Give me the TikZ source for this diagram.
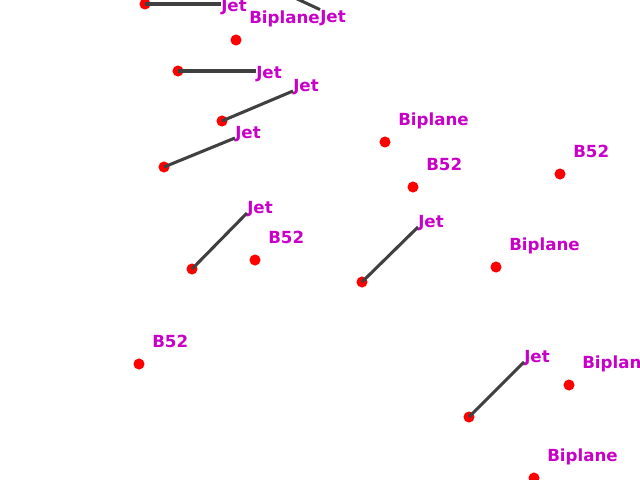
\documentclass[tikz,border=0pt]{standalone}
\usepackage{fontspec}
\setmainfont{DejaVu Sans}
\usepackage{xcolor}
\usepackage{tikz}
\usetikzlibrary{positioning,calc}

\definecolor{tagmagenta}{RGB}{200,0,200}
\definecolor{leadgray}{RGB}{64,64,64}

\tikzset{
    plane/.style={circle, fill=red, inner sep=0pt, minimum size=8pt},
    tag/.style={text=tagmagenta, inner sep=0pt, anchor=base west, font=\fontsize{12}{14}\selectfont\bfseries},
    leader/.style={leadgray, line width=2.2pt}
}

\begin{document}
\begin{tikzpicture}[x=0.72pt, y=-0.72pt]
    \useasboundingbox (0,0) rectangle (640,480);
    \clip (0,0) rectangle (640,480);

    % Plain aircraft (label up and to the right)
    \foreach \n/\x/\y/\t in {1/236/40/Biplane, 2/385/142/Biplane, 3/413/187/B52,
        4/560/174/B52, 5/255/260/B52, 6/139/364/B52, 7/496/267/Biplane,
        8/569/385/Biplane, 9/534/478/Biplane} {
        \node [plane] (p\n) at (\x, \y) {};
        \node [tag] (t\n) at (\x+13, \y-17) {\t};
    }

    % Jets with horizontal leaders
    \node [plane] (j1) at (145, 4) {};
    \node [tag] (lj1) at (221, 11) {Jet};
    \node [plane] (j2) at (178, 71) {};
    \node [tag] (lj2) at (256, 78) {Jet};
    \draw [leader] (j1.center) -- (j1 -| lj1.west);
    \draw [leader] (j2.center) -- (j2 -| lj2.west);

    % Jets with slanted leaders
    \foreach \n/\x/\y/\u/\v in {3/222/121/293/91, 4/164/167/235/138,
        5/192/269/247/213, 6/362/282/418/227, 7/469/417/524/362} {
        \node [plane] (j\n) at (\x, \y) {};
        \node [tag] (lj\n) at (\u, \v) {Jet};
        \draw [leader] (j\n.center) -- (lj\n.base west);
    }

    % Jet above the top edge
    \node [plane] (j8) at (250, -23) {};
    \node [tag] (lj8) at (320, 22) {Jet};
    \draw [leader] (j8.center) -- (lj8.north west);
\end{tikzpicture}
\end{document}
